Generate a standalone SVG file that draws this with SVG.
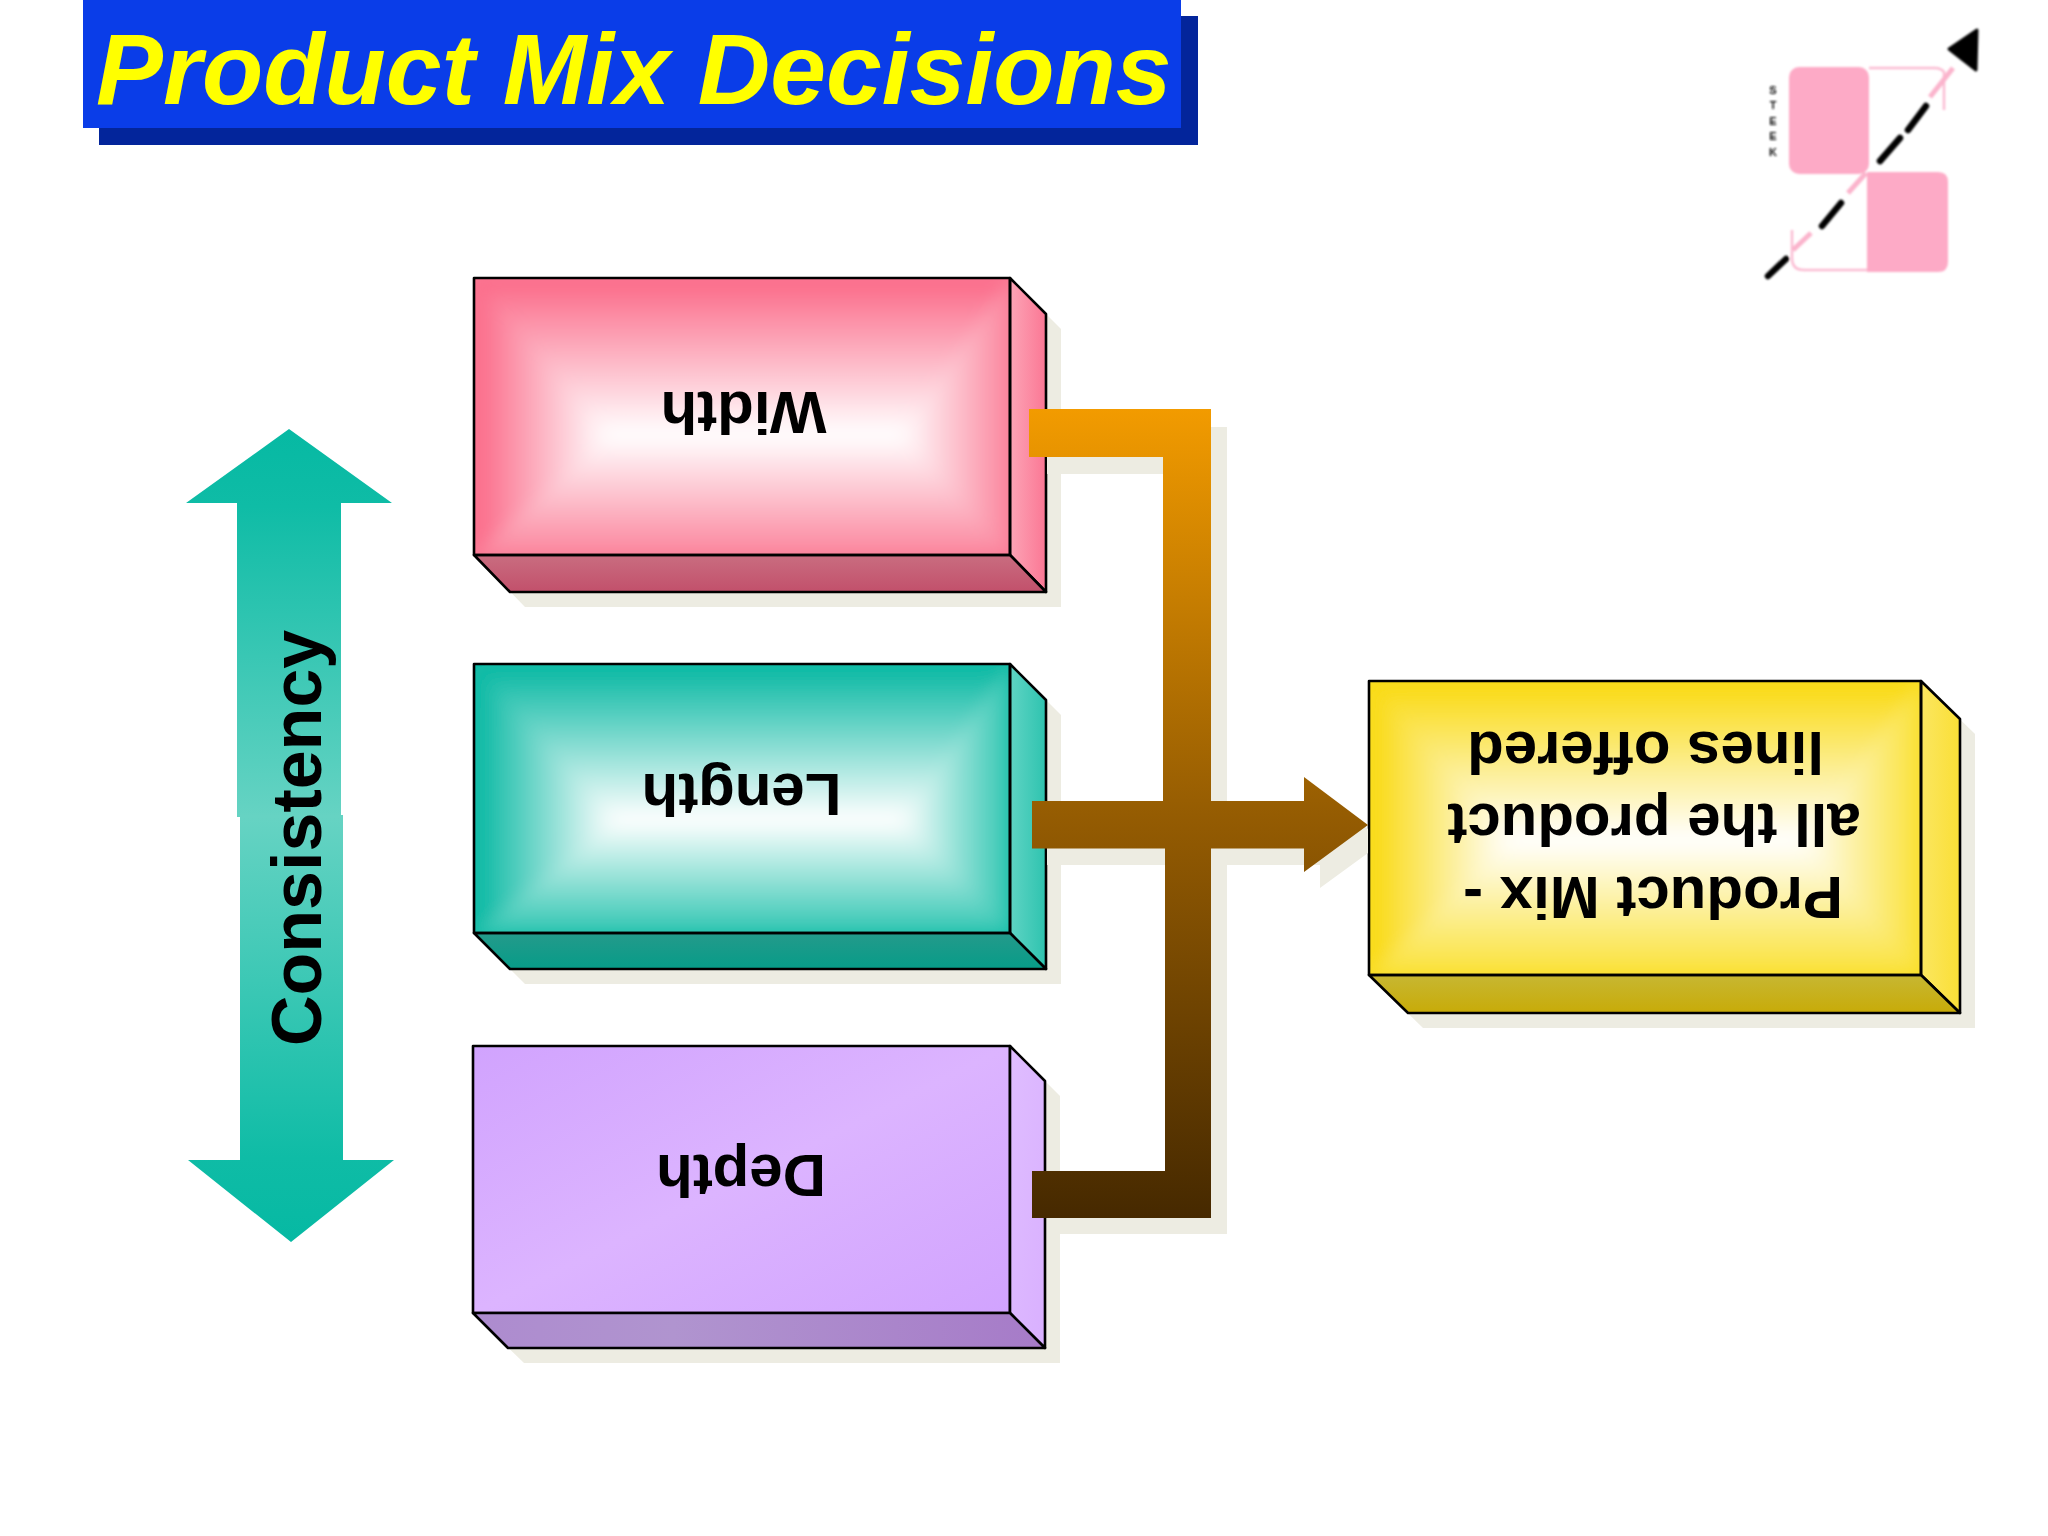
<svg xmlns="http://www.w3.org/2000/svg" width="2048" height="1536" viewBox="0 0 2048 1536">
<style>
.edge{stroke:#000;stroke-width:2.6;stroke-linejoin:round}
.seam{stroke:none}
.shadow{fill:#edece2}
.lbl{font-family:"Liberation Sans",Arial,sans-serif;font-weight:700;font-size:60px;fill:#000;text-anchor:middle}
.blk{stroke:#000;stroke-width:6.5;stroke-linecap:round;fill:none}
.pnk{stroke:#fbb4cc;stroke-width:5;fill:none}
.thin{stroke:#fbbcd2;stroke-width:2.5;fill:none}
</style>
<defs>
<filter id="soft" x="-5%" y="-5%" width="110%" height="110%"><feGaussianBlur stdDeviation="0.8"/></filter>
<filter id="melt" x="-5%" y="-5%" width="110%" height="110%"><feGaussianBlur stdDeviation="8"/></filter>
<clipPath id="cW"><rect x="474" y="278" width="536" height="277"/></clipPath>
<clipPath id="cL"><rect x="474" y="664" width="536" height="269"/></clipPath>
<clipPath id="cP"><rect x="1369" y="681" width="552" height="294"/></clipPath>
<linearGradient id="pT" x1="0" y1="0" x2="0" y2="1"><stop offset="0" stop-color="#fb6786"/><stop offset="1" stop-color="#fff"/></linearGradient>
<linearGradient id="pB" x1="0" y1="1" x2="0" y2="0"><stop offset="0" stop-color="#fb859d"/><stop offset="1" stop-color="#fff"/></linearGradient>
<linearGradient id="pL" x1="0" y1="0" x2="1" y2="0"><stop offset="0" stop-color="#fb6786"/><stop offset="1" stop-color="#fff"/></linearGradient>
<linearGradient id="pR" x1="1" y1="0" x2="0" y2="0"><stop offset="0" stop-color="#fb859d"/><stop offset="1" stop-color="#fff"/></linearGradient>
<linearGradient id="pS" x1="0" y1="0" x2="1" y2="0"><stop offset="0" stop-color="#fca4b6"/><stop offset="1" stop-color="#fb7794"/></linearGradient>
<linearGradient id="pU" x1="0" y1="0" x2="0" y2="1"><stop offset="0" stop-color="#c96d80"/><stop offset="1" stop-color="#c2506b"/></linearGradient>
<linearGradient id="tT" x1="0" y1="0" x2="0" y2="1"><stop offset="0" stop-color="#02b7a1"/><stop offset="1" stop-color="#fff"/></linearGradient>
<linearGradient id="tB" x1="0" y1="1" x2="0" y2="0"><stop offset="0" stop-color="#30c6b2"/><stop offset="1" stop-color="#fff"/></linearGradient>
<linearGradient id="tL" x1="0" y1="0" x2="1" y2="0"><stop offset="0" stop-color="#02b7a1"/><stop offset="1" stop-color="#fff"/></linearGradient>
<linearGradient id="tR" x1="1" y1="0" x2="0" y2="0"><stop offset="0" stop-color="#30c6b2"/><stop offset="1" stop-color="#fff"/></linearGradient>
<linearGradient id="tS" x1="0" y1="0" x2="1" y2="0"><stop offset="0" stop-color="#5fd4c4"/><stop offset="1" stop-color="#2ec3af"/></linearGradient>
<linearGradient id="tU" x1="0" y1="0" x2="0" y2="1"><stop offset="0" stop-color="#249a8b"/><stop offset="1" stop-color="#079c88"/></linearGradient>
<linearGradient id="yT" x1="0" y1="0" x2="0" y2="1"><stop offset="0" stop-color="#f9d90c"/><stop offset="1" stop-color="#fff"/></linearGradient>
<linearGradient id="yB" x1="0" y1="1" x2="0" y2="0"><stop offset="0" stop-color="#fae136"/><stop offset="1" stop-color="#fff"/></linearGradient>
<linearGradient id="yL" x1="0" y1="0" x2="1" y2="0"><stop offset="0" stop-color="#f9d90c"/><stop offset="1" stop-color="#fff"/></linearGradient>
<linearGradient id="yR" x1="1" y1="0" x2="0" y2="0"><stop offset="0" stop-color="#fae136"/><stop offset="1" stop-color="#fff"/></linearGradient>
<linearGradient id="yS" x1="0" y1="0" x2="1" y2="0"><stop offset="0" stop-color="#fbe660"/><stop offset="1" stop-color="#fadf36"/></linearGradient>
<linearGradient id="yU" x1="0" y1="0" x2="0" y2="1"><stop offset="0" stop-color="#c7b732"/><stop offset="1" stop-color="#c8ab08"/></linearGradient>
<linearGradient id="vF" x1="0" y1="0" x2="1" y2="1"><stop offset="0" stop-color="#d1a3fe"/><stop offset="0.5" stop-color="#dcb4ff"/><stop offset="1" stop-color="#d1a3fe"/></linearGradient>
<linearGradient id="vS" x1="0" y1="0" x2="1" y2="1"><stop offset="0" stop-color="#dfbdff"/><stop offset="1" stop-color="#d9b0ff"/></linearGradient>
<linearGradient id="vU" x1="0" y1="0" x2="1" y2="0"><stop offset="0" stop-color="#ad8bcf"/><stop offset="0.35" stop-color="#b094cf"/><stop offset="1" stop-color="#a67bc8"/></linearGradient>
<linearGradient id="flow" gradientUnits="userSpaceOnUse" x1="0" y1="409" x2="0" y2="1218"><stop offset="0" stop-color="#f29b00"/><stop offset="0.5" stop-color="#955c02"/><stop offset="1" stop-color="#462900"/></linearGradient>
<linearGradient id="up" gradientUnits="userSpaceOnUse" x1="0" y1="429" x2="0" y2="817"><stop offset="0" stop-color="#06b9a3"/><stop offset="0.2" stop-color="#0fbca6"/><stop offset="1" stop-color="#66d3c3"/></linearGradient>
<linearGradient id="down" gradientUnits="userSpaceOnUse" x1="0" y1="817" x2="0" y2="1242"><stop offset="0" stop-color="#66d3c3"/><stop offset="0.8" stop-color="#0fbca6"/><stop offset="1" stop-color="#06b9a3"/></linearGradient>
</defs>
<rect width="2048" height="1536" fill="#fff"/>

<g id="title">
<rect x="99" y="16" width="1099" height="129" fill="#03259b"/>
<rect x="83" y="0" width="1098" height="128" fill="#0a3de8"/>
<text x="96" y="104" font-family="'Liberation Sans',Arial,sans-serif" font-weight="700" font-style="italic" font-size="100.3" fill="#ffff00">Product Mix Decisions</text>
</g>

<g id="logo" filter="url(#soft)">
<rect x="1789" y="67" width="80" height="107" rx="10" fill="#fdaac6"/>
<path d="M1867 172H1938Q1948 172 1948 182V262Q1948 272 1938 272H1867Z" fill="#fdaac6"/>
<path class="thin" d="M1869 68H1935Q1941 68 1944 72V110"/>
<path class="thin" d="M1792 230V258Q1792 270 1804 270H1867"/>
<path class="pnk" d="M1793 250L1811 233M1848 193L1866 173M1930 97L1953 68"/>
<path class="blk" d="M1768 276L1786 259M1822 226L1841 203M1880 161L1900 138M1908 130L1926 106"/>
<path d="M1977 30L1976 70L1949 49Z" fill="#000" stroke="#000" stroke-width="3" stroke-linejoin="round"/>
<text font-family="'Liberation Sans',sans-serif" font-weight="700" font-size="11" fill="#111" text-anchor="middle"><tspan x="1773" y="94">S</tspan><tspan x="1773" y="109">T</tspan><tspan x="1773" y="125">E</tspan><tspan x="1773" y="140">E</tspan><tspan x="1773" y="156">K</tspan></text>
</g>

<g id="consistency">
<path d="M289 429L392 503H341V817H237V503H186Z" fill="url(#up)"/>
<path d="M240 815H343V1160H394L291 1242L188 1160H240Z" fill="url(#down)"/>
<text transform="translate(321 1046) rotate(-90)" font-family="'Liberation Sans',Arial,sans-serif" font-weight="700" font-size="70" fill="#000">Consistency</text>
</g>

<g id="node-width">
<path class="shadow" d="M489 293H1025L1061 329V607H525L489 570Z"/>
<g clip-path="url(#cW)">
<rect x="474" y="278" width="536" height="277" fill="#fb7a95"/>
<g filter="url(#melt)">
<path class="seam" fill="url(#pT)" d="M474 278H1010L900 435H608Z"/>
<path class="seam" fill="url(#pB)" d="M474 555H1010L900 435H608Z"/>
<path class="seam" fill="url(#pL)" d="M474 278V555L608 435Z"/>
<path class="seam" fill="url(#pR)" d="M1010 278V555L900 435Z"/>
</g>
</g>
<path class="edge" fill="url(#pS)" d="M1010 278L1046 314V592L1010 555Z"/>
<path class="edge" fill="url(#pU)" d="M474 555H1010L1046 592H510Z"/>
<rect class="edge" x="474" y="278" width="536" height="277" fill="none"/>
<text class="lbl" transform="translate(743.5 392) rotate(180)">Width</text>
</g>

<g id="node-length">
<path class="shadow" d="M489 679H1025L1061 715V984H525L489 948Z"/>
<g clip-path="url(#cL)">
<rect x="474" y="664" width="536" height="269" fill="#14bda8"/>
<g filter="url(#melt)">
<path class="seam" fill="url(#tT)" d="M474 664H1010L900 820H615Z"/>
<path class="seam" fill="url(#tB)" d="M474 933H1010L900 820H615Z"/>
<path class="seam" fill="url(#tL)" d="M474 664V933L615 820Z"/>
<path class="seam" fill="url(#tR)" d="M1010 664V933L900 820Z"/>
</g>
</g>
<path class="edge" fill="url(#tS)" d="M1010 664L1046 700V969L1010 933Z"/>
<path class="edge" fill="url(#tU)" d="M474 933H1010L1046 969H510Z"/>
<rect class="edge" x="474" y="664" width="536" height="269" fill="none"/>
<text class="lbl" transform="translate(741.5 774) rotate(180)">Length</text>
</g>

<g id="node-depth">
<path class="shadow" d="M488 1061H1025L1060 1096V1363H524L488 1328Z"/>
<path class="edge" fill="url(#vF)" d="M473 1046H1010V1313H473Z"/>
<path class="edge" fill="url(#vS)" d="M1010 1046L1045 1081V1348L1010 1313Z"/>
<path class="edge" fill="url(#vU)" d="M473 1313H1010L1045 1348H508Z"/>
<text class="lbl" transform="translate(741 1155) rotate(180)">Depth</text>
</g>

<g id="node-product-mix">
<path class="shadow" d="M1384 696H1936L1975 734V1028H1423L1384 990Z"/>
<g clip-path="url(#cP)">
<rect x="1369" y="681" width="552" height="294" fill="#f9de22"/>
<g filter="url(#melt)">
<path class="seam" fill="url(#yT)" d="M1369 681H1921L1800 840H1510Z"/>
<path class="seam" fill="url(#yB)" d="M1369 975H1921L1800 840H1510Z"/>
<path class="seam" fill="url(#yL)" d="M1369 681V975L1510 840Z"/>
<path class="seam" fill="url(#yR)" d="M1921 681V975L1800 840Z"/>
</g>
</g>
<path class="edge" fill="url(#yS)" d="M1921 681L1960 719V1013L1921 975Z"/>
<path class="edge" fill="url(#yU)" d="M1369 975H1921L1960 1013H1408Z"/>
<rect class="edge" x="1369" y="681" width="552" height="294" fill="none"/>
<text class="lbl" transform="translate(1653 877) rotate(180)">Product Mix -</text>
<text class="lbl" transform="translate(1654 804) rotate(180)">all the product</text>
<text class="lbl" transform="translate(1645.500 732) rotate(180)">lines offered</text>
</g>

<g id="connectors">
<path class="shadow" d="M1047 427H1227V1234H1047V1186H1181V865H1047V817H1181V474H1047Z"/>
<path class="shadow" d="M1227 817H1320V793L1368 829V853L1320 888V865H1227Z"/>
<path fill="url(#flow)" d="M1029 409H1211V801H1304V777L1368 825L1304 872V848.500H1211V1218H1032V1171H1165V848.500H1032V801H1163V457H1029Z"/>
</g>
</svg>
